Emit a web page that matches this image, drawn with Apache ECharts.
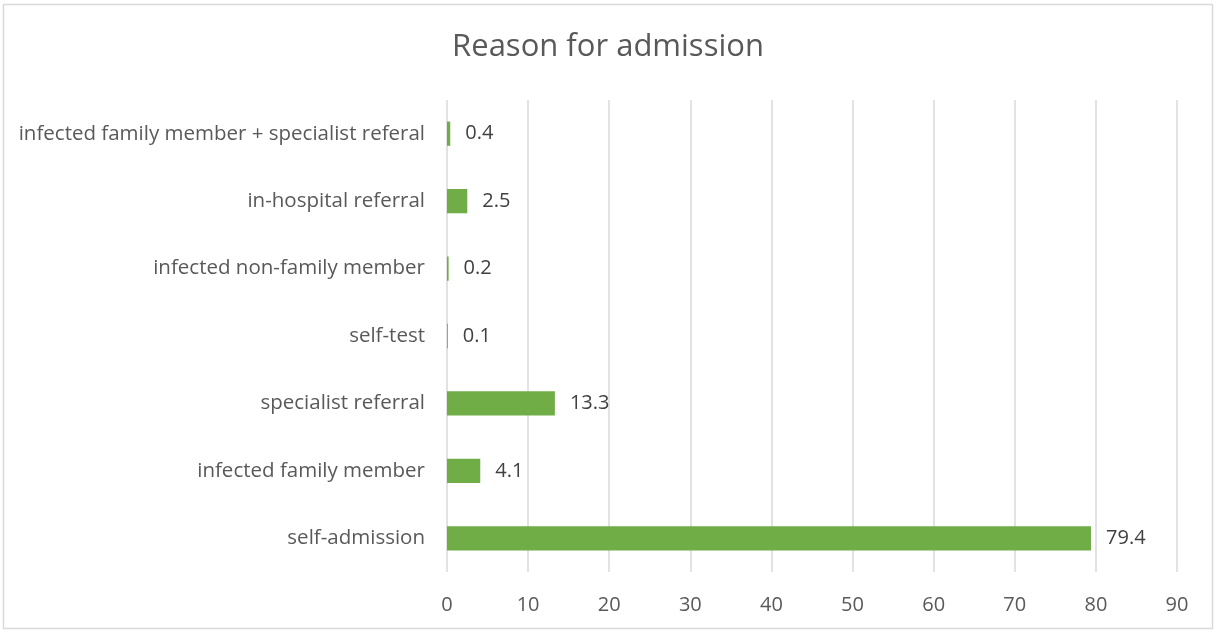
<!DOCTYPE html>
<html>
<head>
<meta charset="utf-8">
<script src="https://cdn.jsdelivr.net/npm/echarts@6/dist/echarts.min.js"></script>
<style>
  html, body { margin: 0; padding: 0; background: #ffffff; }
  #chart { width: 1216px; height: 632px; }
</style>
</head>
<body>
<div id="chart"></div>
<script>
// Reasons for admission, listed bottom-to-top as they appear on the axis
const categories = [
  'self-admission',
  'infected family member',
  'specialist referral',
  'self-test',
  'infected non-family member',
  'in-hospital referral',
  'infected family member + specialist referal'
];
// Share of admissions per reason (%)
const values = [79.4, 4.1, 13.3, 0.1, 0.2, 2.5, 0.4];

const textColor = '#595959';
const fontFamily = '"Open Sans", "Noto Sans", sans-serif';

const chart = echarts.init(document.getElementById('chart'), null, { renderer: 'canvas' });

chart.setOption({
  backgroundColor: '#ffffff',
  animation: false,
  title: {
    text: 'Reason for admission',
    left: 'center',
    top: 27,
    textStyle: { color: textColor, fontSize: 31, fontWeight: 'normal', fontFamily: fontFamily }
  },
  graphic: [{
    type: 'rect',
    shape: { x: 3.5, y: 4.5, width: 1209, height: 624 },
    style: { fill: 'none', stroke: '#d9d9d9', lineWidth: 1.5 },
    silent: true,
    z: -1
  }],
  grid: { left: 447, right: 39, top: 100, bottom: 60, containLabel: false },
  xAxis: {
    type: 'value',
    min: 0,
    max: 90,
    interval: 10,
    axisLine: { show: false },
    axisTick: { show: false },
    axisLabel: { color: textColor, fontSize: 20, fontFamily: fontFamily, margin: 23 },
    splitLine: { show: true, lineStyle: { color: '#d9d9d9', width: 1.5 } }
  },
  yAxis: {
    type: 'category',
    data: categories,
    axisLine: { show: false },
    axisTick: { show: false },
    axisLabel: { color: textColor, fontSize: 20.5, fontFamily: fontFamily, margin: 22, padding: [4, 0, 0, 0] },
    splitLine: { show: false }
  },
  series: [{
    type: 'bar',
    data: values,
    barWidth: '36%',
    itemStyle: { color: '#70ad47' },
    label: {
      show: true,
      position: 'right',
      distance: 15,
      color: '#404040',
      fontSize: 20,
      fontFamily: fontFamily,
      padding: [4, 0, 0, 0]
    }
  }]
});
</script>
</body>
</html>
